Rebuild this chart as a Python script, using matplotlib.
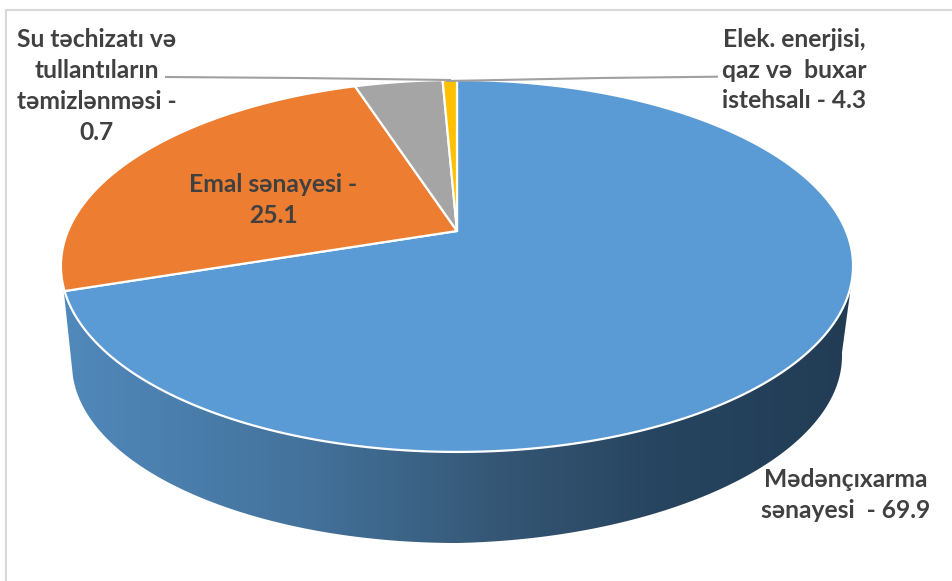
import numpy as np
import matplotlib
matplotlib.use('Agg')
import matplotlib.pyplot as plt
from matplotlib.colors import LinearSegmentedColormap
from matplotlib.patches import Polygon

# Sector shares, clockwise from 12 o'clock
sectors = ['Mədənçıxarma sənayesi', 'Emal sənayesi', 'Elek. enerjisi, qaz və buxar istehsalı',
           'Su təchizatı və tullantıların təmizlənməsi']
values = [69.9, 25.1, 4.3, 0.7]
colors = ['#5B9BD5', '#EC7D31', '#A5A5A5', '#FFC000']

labels = ['Mədənçıxarma\nsənayesi  - 69.9', 'Emal sənayesi -\n25.1',
          'Elek. enerjisi,\nqaz və  buxar\nistehsalı - 4.3', 'Su təchizatı və\ntullantıların\ntəmizlənməsi -\n0.7']
label_pos = [(846, 495), (273, 200), (794, 70), (97, 86)]

plt.rcParams['font.family'] = ['Lato', 'Open Sans', 'DejaVu Sans']

fig = plt.figure(figsize=(9.52, 5.81), dpi=100)
ax = fig.add_axes([0, 0, 1, 1])
ax.axis('off')

CX, CY = 457, 231
K, A, B = 0.188, 389, 179.4


# perspective view of a point on the pie's unit circle
def project(theta):
    u = np.sin(theta)
    v = np.cos(theta)
    w = 1 + K * v
    return CX + A * u / w, CY - B * v / w


# frame of the chart area
ax.plot([6, 6], [581, 9.5], color='#D9D9D9', lw=1.5)
ax.plot([6, 952], [9.5, 9.5], color='#D9D9D9', lw=1.5)

# side wall of the blue slice: top rim plus a slightly smaller rim below it
end_blue = values[0] / sum(values) * 2 * np.pi
t = np.linspace(np.radians(106), end_blue + np.radians(1.5), 300)
x_top, y_top = project(t)
a = np.linspace(np.radians(176), np.radians(-1), 300)
x_low = 457 + 385 * np.cos(a)
y_low = 364 + 179 * np.sin(a) - 8 * np.clip(np.cos(a), 0, None)
wall = np.column_stack([np.r_[x_top, x_low], np.r_[y_top, y_low]])
side_cmap = LinearSegmentedColormap.from_list('side', [(0, '#5089BC'), (0.3, '#44739C'), (0.55, '#355775'),
                                                       (0.75, '#274560'), (1, '#223C54')])
grad = ax.imshow(np.linspace(0, 1, 256).reshape(1, -1), cmap=side_cmap, aspect='auto',
                 extent=(61, 853, 581, 0), zorder=1)
grad.set_clip_path(Polygon(wall, transform=ax.transData))

# top of the pie
start = 0
for val, col in zip(values, colors):
    stop = start + val / sum(values) * 2 * np.pi
    t = np.linspace(start, stop, 400)
    xs, ys = project(t)
    ax.fill(np.r_[CX, xs], np.r_[CY, ys], facecolor=col, edgecolor='white', lw=1.6, zorder=2, joinstyle='round')
    start = stop

# leader lines for the two small slices
ax.plot([166, 300, 450], [77, 78, 80], color='#A0A0A0', lw=1.5, zorder=3)
ax.plot([717, 600, 447], [76.7, 78, 81], color='#A0A0A0', lw=1.5, zorder=3)

for lab, (x, y) in zip(labels, label_pos):
    ax.text(x, y, lab, ha='center', va='center', fontsize=17.7, fontweight='bold', color='#404040',
            linespacing=1.42, zorder=4)

ax.set_xlim(0, 952)
ax.set_ylim(581, 0)
fig.savefig('out.png', dpi=100)
